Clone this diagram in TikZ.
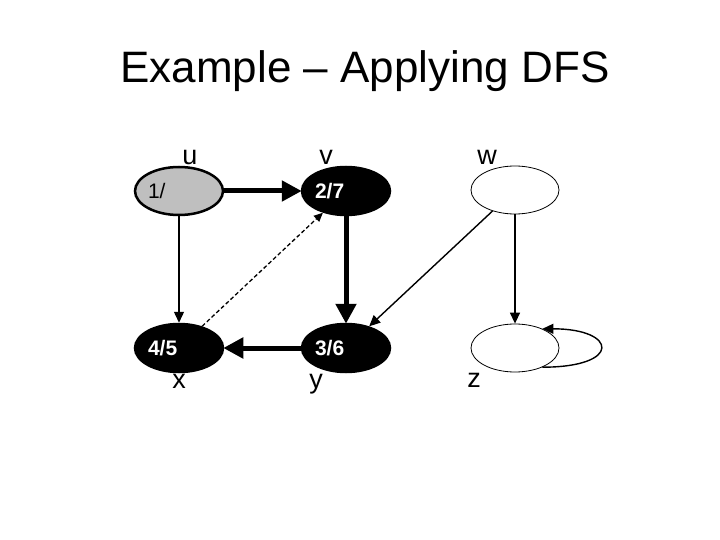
\documentclass[tikz,border=0pt]{standalone}
\usepackage{fontspec}
\setmainfont{Liberation Sans}
\usetikzlibrary{arrows.meta,shapes.geometric}

\begin{document}
\begin{tikzpicture}[x=1pt, y=1pt,
      vertex/.style={draw, ellipse, minimum width=88pt, minimum height=48pt, inner sep=0pt,
                     text width=62pt, align=left, font=\fontsize{21}{24}\selectfont},
      white/.style={vertex, line width=.8pt},
      gray/.style={vertex, fill=black!25, line width=2.5pt},
      black/.style={vertex, fill=black, text=white, line width=2.5pt,
                    font=\fontsize{21}{24}\selectfont\bfseries},
      lbl/.style={font=\fontsize{27}{30}\selectfont, inner sep=1pt},
      tree/.style={-{Triangle[length=20pt, width=20pt]}, line width=5pt, shorten >=-1pt},
      arr/.style={-{Triangle[length=11pt, width=10pt]}, line width=1.4pt},
      back/.style={-{Triangle[length=9pt, width=8pt]}, line width=1.3pt,
                   dash pattern=on 4pt off 2.5pt}]
    \useasboundingbox (0,0) rectangle (720,-540);
    \node[font=\fontsize{44}{50}\selectfont] (title) at (365,-71) {Example -- Applying DFS};
    % vertices with discovery/finish times
    \node[gray, label={[lbl, xshift=11pt]above:u}] (u) at (179,-191) {1/};
    \node[black, label={[lbl, xshift=-20pt]above:v}] (v) at (346,-191) {2/7};
    \node[white, label={[lbl, xshift=-28pt]above:w}] (w) at (515,-190) {};
    \node[black, label={[lbl]below:x}] (x) at (179,-348) {4/5};
    \node[black, label={[lbl, xshift=-30pt]below:y}] (y) at (346,-348) {3/6};
    \node[white, label={[lbl, xshift=-41pt]below:z}] (z) at (515,-348) {};
    % edges
    \draw[tree] (u) -- (v);
    \draw[tree] (v) -- (y);
    \draw[tree] (y) -- (x);
    \draw[arr] (u) -- (x);
    \draw[back] (x) -- (v);
    \draw[arr] (w) -- (y);
    \draw[arr] (w) -- (z);
    \draw[arr] (z.-35) .. controls +(80,0) and +(75,0) .. (z.35);
\end{tikzpicture}
\end{document}
